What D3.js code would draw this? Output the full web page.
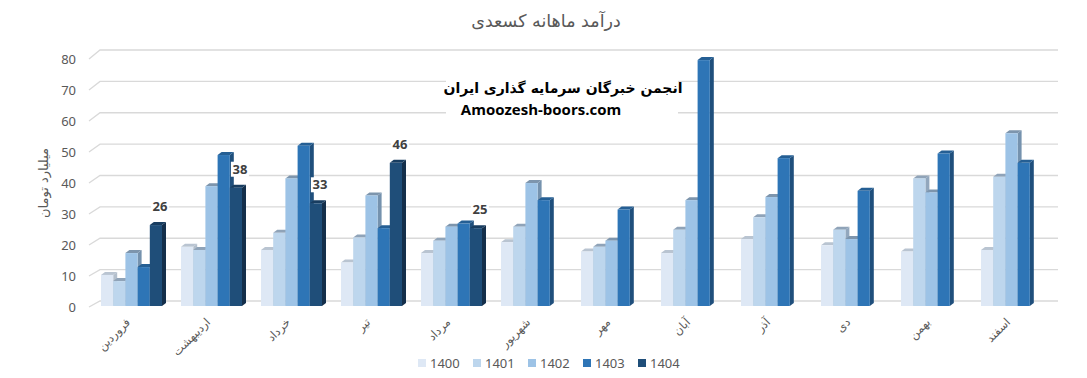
<!DOCTYPE html>
<html>
<head>
<meta charset="utf-8">
<script src="https://cdn.jsdelivr.net/npm/d3@7"></script>
<style>
  body { margin: 0; background: #fff; }
  text { font-family: "Noto Sans", "DejaVu Sans", sans-serif; }
</style>
</head>
<body>
<svg id="chart" width="1087" height="378"></svg>
<script>
const months = ["فروردین", "اردیبهشت", "خرداد", "تیر", "مرداد", "شهریور", "مهر", "آبان", "آذر", "دی", "بهمن", "اسفند"];
const years = ["1400", "1401", "1402", "1403", "1404"];

// values per year, one entry per month (null = no data)
const v1400 = [10, 19, 18, 14, 17, 20.5, 17.5, 17, 21.5, 19.5, 17.5, 18];
const v1401 = [8, 18, 23.5, 22, 21, 25.5, 19, 24.5, 28.5, 24.5, 41, 41.5];
const v1402 = [17, 38.5, 41, 35.5, 25.5, 39.5, 21, 34, 35, 21.5, 36.5, 55.5];
const v1403 = [12.5, 48.5, 51.5, 25, 26.5, 34, 31, 79, 47.5, 37, 49, 46];
const v1404 = [26, 38, 33, 46, 25, null, null, null, null, null, null, null];
const yTicks = [0, 10, 20, 30, 40, 50, 60, 70, 80];

const seriesValues = [v1400, v1401, v1402, v1403, v1404];

// front face / side / top colours per series
const frontCol = ["#dee8f5", "#bdd6ed", "#9dc3e6", "#2e75b6", "#1f4e79"];
const sideCol  = ["#b3bfcc", "#92a7bd", "#7592ae", "#1f4f7c", "#142f4b"];
const topCol   = ["#b9c4d1", "#8fa3b8", "#7d95ad", "#255f94", "#183d60"];

const svg = d3.select("#chart");

const depthX = 4, depthY = 3;

const x0 = d3.scaleBand().domain(months).range([93, 1053]);
const x1 = d3.scaleBand().domain(years).range([8, 69]);
const yFront = d3.scaleLinear().domain([0, 80]).range([307, 59]);
const yBar = d3.scaleLinear().domain([0, 80]).range([306, 57]);
const yBack = d3.scaleLinear().domain([0, 80]).range([301, 50]);

// Title
svg.append("text")
    .attr("x", 546).attr("y", 27)
    .attr("text-anchor", "middle")
    .style("font-family", "'DejaVu Sans'")
    .style("font-size", "17.5px")
    .attr("fill", "#595959")
    .text("درآمد ماهانه کسعدی");

// gridlines on back wall with perspective diagonal
const grid = svg.append("g");
yTicks.forEach(t => {
    grid.append("path")
        .attr("d", `M89,${yFront(t)}L100,${yBack(t)}H1058`)
        .attr("fill", "none")
        .attr("stroke", "#d9d9d9")
        .attr("stroke-width", 1.3);
});

// y tick labels
svg.append("g").selectAll("text")
    .data(yTicks)
    .enter().append("text")
    .attr("x", 76)
    .attr("y", d => yFront(d))
    .attr("dy", "0.35em")
    .attr("text-anchor", "end")
    .attr("fill", "#595959")
    .style("font-size", "13px")
    .text(d => d);

// y title
svg.append("text")
    .attr("transform", "translate(48,183) rotate(-90)")
    .attr("text-anchor", "middle")
    .style("font-family", "'DejaVu Sans'")
    .style("font-size", "13px")
    .attr("fill", "#595959")
    .text("میلیارد تومان");

// watermark box
const wm = svg.append("g");
wm.append("rect")
    .attr("x", 446).attr("y", 76).attr("width", 232).attr("height", 44)
    .attr("fill", "#fff");
wm.append("text")
    .attr("x", 563).attr("y", 93)
    .attr("text-anchor", "middle")
    .style("font-family", "'DejaVu Sans'")
    .style("font-weight", "bold")
    .style("font-size", "14px")
    .attr("fill", "#000")
    .text("انجمن خبرگان سرمایه گذاری ایران");
wm.append("text")
    .attr("x", 541).attr("y", 115)
    .attr("text-anchor", "middle")
    .style("font-family", "'Open Sans'")
    .style("font-weight", "bold")
    .style("font-size", "15px")
    .attr("fill", "#000")
    .text("Amoozesh-boors.com");

// bars
const bars = [];
months.forEach((m, i) => {
    years.forEach((yr, s) => {
        const v = seriesValues[s][i];
        if (v == null) return;
        bars.push({ month: m, year: yr, s: s, value: v });
    });
});

const barG = svg.append("g");
const w = x1.bandwidth();
bars.forEach(d => {
    const x = x0(d.month) + x1(d.year);
    const top = yBar(d.value);
    const bot = yBar(0);
    const g = barG.append("g");
    // side
    g.append("path")
        .attr("d", `M${x + w},${top}L${x + w + depthX},${top - depthY}L${x + w + depthX},${bot - depthY}L${x + w},${bot}Z`)
        .attr("fill", sideCol[d.s]);
    // top
    g.append("path")
        .attr("d", `M${x},${top}L${x + depthX},${top - depthY}L${x + w + depthX},${top - depthY}L${x + w},${top}Z`)
        .attr("fill", topCol[d.s]);
    // front
    g.append("rect")
        .attr("x", x).attr("y", top)
        .attr("width", w).attr("height", bot - top)
        .attr("fill", frontCol[d.s]);
});

// data labels for 1404
const labG = svg.append("g");
bars.filter(d => d.year === "1404").forEach(d => {
    const cx = x0(d.month) + x1(d.year) + w / 2 + 4;
    const cy = yBar(d.value) - 14;
    labG.append("rect")
        .attr("x", cx - 9).attr("y", cy - 12)
        .attr("width", 18).attr("height", 15)
        .attr("fill", "#fff");
    labG.append("text")
        .attr("x", cx).attr("y", cy)
        .attr("text-anchor", "middle")
        .style("font-size", "13px")
        .style("font-weight", "bold")
        .attr("fill", "#404040")
        .text(d.value);
});

// x labels
svg.append("g").selectAll("text")
    .data(months)
    .enter().append("text")
    .attr("transform", d => `translate(${x0(d) + 38},${323}) rotate(-45)`)
    .attr("text-anchor", "end")
    .style("font-family", "'DejaVu Sans'")
    .style("font-size", "11.5px")
    .attr("fill", "#595959")
    .text(d => d);

// legend
const legend = svg.append("g");
years.forEach((yr, s) => {
    const lx = 418 + s * 55;
    legend.append("rect")
        .attr("x", lx).attr("y", 359)
        .attr("width", 8).attr("height", 8)
        .attr("fill", frontCol[s]);
    legend.append("text")
        .attr("x", lx + 12).attr("y", 363)
        .attr("dy", "0.35em")
        .attr("fill", "#595959")
        .style("font-size", "13px")
        .text(yr);
});
</script>
</body>
</html>
